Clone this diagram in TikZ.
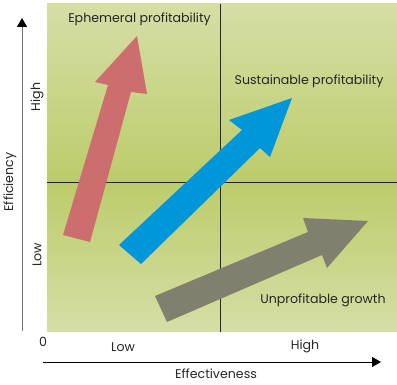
\documentclass[tikz,border=0pt]{standalone}
\usepackage{fontspec}
\setmainfont{Poppins}
\usetikzlibrary{arrows.meta}
\definecolor{paleGreen}{RGB}{214,222,166}
\definecolor{deepGreen}{RGB}{188,204,106}
\definecolor{arrowRed}{RGB}{204,110,110}
\definecolor{arrowBlue}{RGB}{0,150,218}
\definecolor{arrowGrey}{RGB}{128,128,110}

\begin{document}
\begin{tikzpicture}[x=1pt,y=-1pt,
  lbl/.style={font=\fontsize{12.6}{14}\selectfont, text=black!85, inner sep=0pt},
  axislbl/.style={lbl, rotate=90}]
  \useasboundingbox (0,0) rectangle (397,385);
  % background quadrants
  \shade[top color=paleGreen, bottom color=deepGreen] (47,4) rectangle (397,182);
  \shade[top color=deepGreen, bottom color=paleGreen] (47,182) rectangle (397,332);
  \draw[black!85, line width=0.8pt] (220,4) -- (220,332);
  \draw[black!85, line width=0.8pt] (47,182) -- (397,182);
  % axes
  \coordinate (yfoot) at (22,331);
  \coordinate (ytop) at (22,18);
  \coordinate (xfoot) at (43,362);
  \coordinate (xend) at (381,362);
  \draw[black!55, line width=0.9pt, -{Triangle[length=9pt,width=10pt,color=black]}] (yfoot) -- (ytop);
  \draw[black, line width=0.9pt, -{Triangle[length=9pt,width=10pt]}] (xfoot) -- (xend);
  % arrows
  \fill[arrowRed] (63,235) -- (108,85) -- (95,82) -- (137,36) -- (147,94) -- (131,92) -- (90,242) -- cycle;
  \fill[arrowBlue] (119,245) -- (242,130) -- (229,120) -- (292,98) -- (270,157) -- (260,148) -- (141,264) -- cycle;
  \fill[arrowGrey] (155,296) -- (308,232) -- (303,218) -- (368,221) -- (327,268) -- (322,255) -- (167,322) -- cycle;
  % labels
  \node[lbl] (ephemeral) at (139.5,19) {Ephemeral profitability};
  \node[lbl] (sustainable) at (309,81) {Sustainable profitability};
  \node[lbl] (unprofitable) at (323,300) {Unprofitable growth};
  \node[axislbl] (efficiency) at (10,182) {Efficiency};
  \node[axislbl] (yhigh) at (37,97) {High};
  \node[axislbl] (ylow) at (37,255) {Low};
  \node[lbl] (origin) at (43,342) {0};
  \node[lbl] (xlow) at (123,347) {Low};
  \node[lbl] (xhigh) at (305,346) {High};
  \node[lbl] (effectiveness) at (216,374) {Effectiveness};
\end{tikzpicture}
\end{document}
